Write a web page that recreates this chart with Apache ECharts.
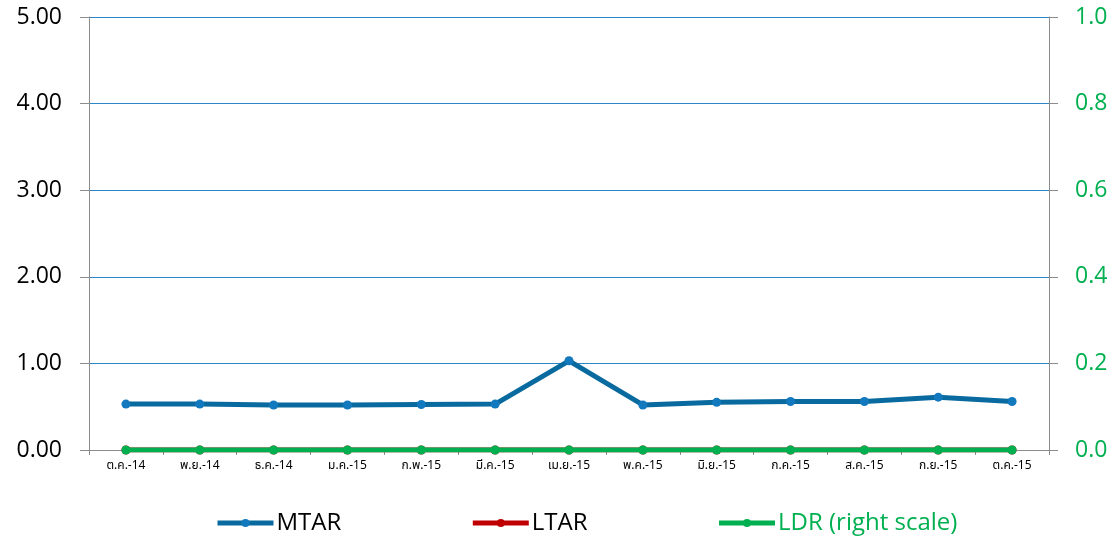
<!DOCTYPE html>
<html>
<head>
<meta charset="utf-8">
<script src="https://cdn.jsdelivr.net/npm/echarts@6/dist/echarts.min.js"></script>
<style>
  html, body { margin: 0; padding: 0; background: #fff; }
  #chart { width: 1113px; height: 538px; }
</style>
</head>
<body>
<div id="chart"></div>
<script>
const months = ["ต.ค.-14", "พ.ย.-14", "ธ.ค.-14", "ม.ค.-15", "ก.พ.-15", "มี.ค.-15", "เม.ย.-15",
  "พ.ค.-15", "มิ.ย.-15", "ก.ค.-15", "ส.ค.-15", "ก.ย.-15", "ต.ค.-15"];
const mtar = [0.53, 0.53, 0.52, 0.52, 0.525, 0.53, 1.03, 0.52, 0.55, 0.56, 0.56, 0.61, 0.56];
const ltar = [0, 0, 0, 0, 0, 0, 0, 0, 0, 0, 0, 0, 0];
const ldr = [0, 0, 0, 0, 0, 0, 0, 0, 0, 0, 0, 0, 0];

const chart = echarts.init(document.getElementById("chart"));

const font = "'Open Sans', Lato, sans-serif";

const option = {
  animation: false,
  textStyle: { fontFamily: font },
  grid: { left: 89, right: 64, top: 17, bottom: 88 },
  legend: {
    top: 506,
    left: 210,
    itemGap: 129,
    itemWidth: 56,
    itemHeight: 10,
    textStyle: { fontSize: 24, fontFamily: font, color: "#000", padding: [0, 0, 0, -2] },
    data: [
      { name: "MTAR", itemStyle: { color: "#1279BE" }, lineStyle: { width: 5, color: "#086A9E" } },
      { name: "LTAR", itemStyle: { color: "#C00000" }, lineStyle: { width: 5, color: "#C00000" } },
      { name: "LDR (right scale)", textStyle: { color: "#00B050" },
        itemStyle: { color: "#00B050" }, lineStyle: { width: 5, color: "#00B050" } },
    ],
  },
  xAxis: {
    type: "category",
    data: months,
    boundaryGap: true,
    axisLine: { lineStyle: { color: "#8c8c8c", width: 1 } },
    axisTick: { show: true, length: 5, lineStyle: { color: "#8c8c8c" } },
    axisLabel: {
      color: "#000",
      fontSize: 12,
      margin: 11,
      fontFamily: "'Noto Sans Thai', 'Noto Sans', Tahoma, sans-serif",
    },
  },
  yAxis: [
    {
      type: "value",
      min: 0,
      max: 5,
      interval: 1,
      axisLine: { show: true, lineStyle: { color: "#8c8c8c" } },
      axisTick: { show: true, length: 9, lineStyle: { color: "#8c8c8c" } },
      axisLabel: { color: "#000", fontSize: 23, margin: 27, formatter: (v) => v.toFixed(2) },
      splitLine: { show: true, lineStyle: { color: "#2A86C6", width: 1 } },
    },
    {
      type: "value",
      min: 0,
      max: 1,
      interval: 0.2,
      position: "right",
      axisLine: { show: true, lineStyle: { color: "#8c8c8c" } },
      axisTick: { show: true, length: 9, lineStyle: { color: "#8c8c8c" } },
      axisLabel: { color: "#00B050", fontSize: 23, margin: 26, formatter: (v) => v.toFixed(1) },
      splitLine: { show: false },
    },
  ],
  series: [
    {
      name: "MTAR",
      type: "line",
      data: mtar,
      symbol: "circle",
      symbolSize: 9,
      lineStyle: { color: "#086A9E", width: 5 },
      itemStyle: { color: "#1279BE" },
      z: 3,
    },
    {
      name: "LTAR",
      type: "line",
      data: ltar,
      symbol: "circle",
      symbolSize: 9,
      lineStyle: { color: "#C00000", width: 5 },
      itemStyle: { color: "#C00000" },
      z: 2,
    },
    {
      name: "LDR (right scale)",
      type: "line",
      yAxisIndex: 1,
      data: ldr,
      symbol: "circle",
      symbolSize: 9,
      lineStyle: { color: "#00B050", width: 5 },
      itemStyle: { color: "#00B050" },
      z: 4,
    },
  ],
};

chart.setOption(option);
window.addEventListener("resize", () => chart.resize());
</script>
</body>
</html>
